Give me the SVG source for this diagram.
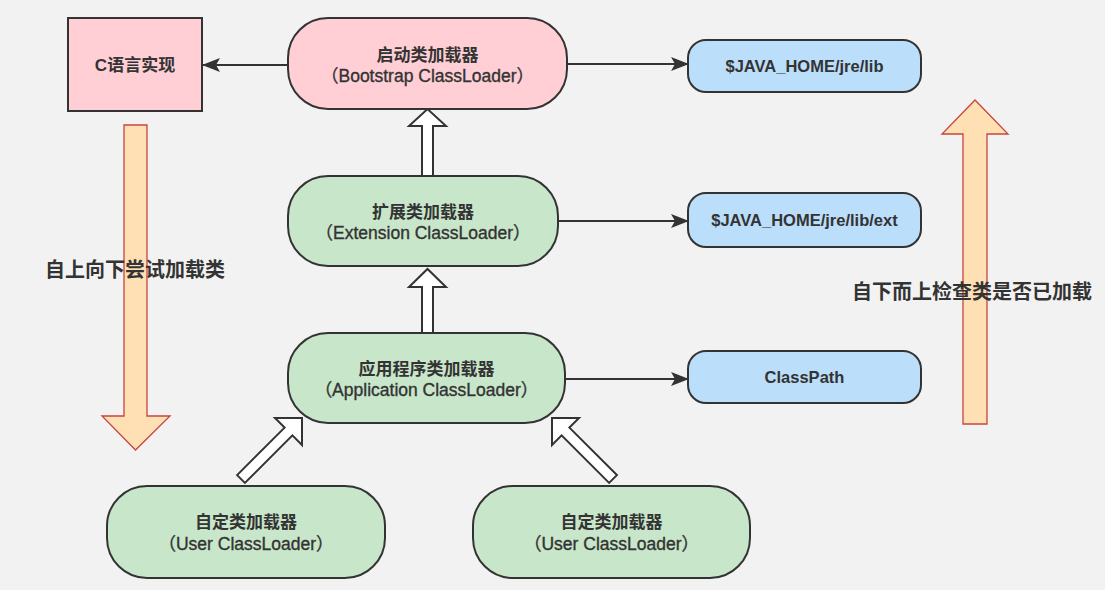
<svg xmlns="http://www.w3.org/2000/svg" width="1105" height="590" viewBox="0 0 1105 590">
<defs>
<style>
.bg{fill:#f2f2f2}
.pink{fill:#ffcfd5;stroke:#333;stroke-width:2}
.green{fill:#c8e6c9;stroke:#333;stroke-width:2}
.blue{fill:#bbdefb;stroke:#333;stroke-width:2}
.t{font-family:"Liberation Sans","Noto Sans CJK SC",sans-serif;fill:#333;text-anchor:middle}
.cn{font-size:17px;font-weight:bold}
.en{font-size:17.5px;stroke:#333;stroke-width:0.35}
.bt{font-size:16.5px;font-weight:bold}
.side{font-family:"Liberation Sans","Noto Sans CJK SC",sans-serif;fill:#333;font-size:20px;font-weight:bold}
.line{stroke:#333;stroke-width:2;fill:none;marker-end:url(#ah)}
.hollow{fill:#fff;stroke:#333;stroke-width:2;stroke-linejoin:miter}
.big{fill:#ffe0b5;stroke:#c8443c;stroke-width:1.3}
</style>
<marker id="ah" markerUnits="userSpaceOnUse" markerWidth="18" markerHeight="14" refX="17" refY="7" orient="auto">
<path d="M0,0 L18,7 L0,14 L4,7 z" fill="#333"/>
</marker>
</defs>
<rect class="bg" x="0" y="0" width="1105" height="590"/>

<g id="big-arrows">
<polygon class="big" points="124,125 147,125 147,416 170,416 135.5,450 102,416 124,416"/>
<polygon class="big" points="963,424 963,134 942,134 975,100 1008,134 987,134 987,424"/>
</g>
<g id="side-labels">
<text class="side" x="45" y="277">自上向下尝试加载类</text>
<text class="side" x="852" y="299">自下而上检查类是否已加载</text>
</g>

<g id="connectors">
<line class="line" x1="288" y1="65" x2="203" y2="65"/>
<line class="line" x1="567" y1="64" x2="688" y2="64"/>
<line class="line" x1="558" y1="221" x2="688" y2="221"/>
<line class="line" x1="565" y1="379" x2="688" y2="379"/>
<polygon class="hollow" points="422,176 422,126 409,126 427.5,109 446,126 433,126 433,176"/>
<polygon class="hollow" points="422,333 422,287 409,287 427.5,269 446,287 433,287 433,333"/>
<polygon class="hollow" points="237.1,475.1 284.6,427.6 275,418 302,418 302,445 292.4,435.4 244.9,482.9"/>
<polygon class="hollow" points="609.1,482.9 561.6,435.4 552,445 552,418 579,418 569.4,427.6 616.9,475.1"/>
</g>

<g id="c-impl">
<rect class="pink" x="68" y="18" width="134" height="93"/>
<text class="t cn" x="135" y="71">C语言实现</text>
</g>

<g id="bootstrap">
<rect class="pink" x="288" y="18" width="279" height="91" rx="40" ry="40"/>
<text class="t cn" x="427.5" y="61">启动类加载器</text>
<text class="t en" x="427.5" y="82">（Bootstrap ClassLoader）</text>
</g>

<g id="extension">
<rect class="green" x="288" y="176" width="270" height="90" rx="40" ry="40"/>
<text class="t cn" x="423" y="218">扩展类加载器</text>
<text class="t en" x="423" y="239">（Extension ClassLoader）</text>
</g>

<g id="application">
<rect class="green" x="288" y="333" width="277" height="90" rx="40" ry="40"/>
<text class="t cn" x="426.5" y="375">应用程序类加载器</text>
<text class="t en" x="426.5" y="396">（Application ClassLoader）</text>
</g>

<g id="user1">
<rect class="green" x="107" y="486" width="278" height="92" rx="40" ry="40"/>
<text class="t cn" x="246" y="528">自定类加载器</text>
<text class="t en" x="246" y="550">（User ClassLoader）</text>
</g>

<g id="user2">
<rect class="green" x="473" y="486" width="277" height="92" rx="40" ry="40"/>
<text class="t cn" x="611.5" y="528">自定类加载器</text>
<text class="t en" x="611.5" y="550">（User ClassLoader）</text>
</g>

<g id="lib">
<rect class="blue" x="688" y="40" width="233" height="52" rx="18" ry="18"/>
<text class="t bt" x="804.5" y="72">$JAVA_HOME/jre/lib</text>
</g>

<g id="lib-ext">
<rect class="blue" x="688" y="193" width="233" height="54" rx="18" ry="18"/>
<text class="t bt" x="804.5" y="226">$JAVA_HOME/jre/lib/ext</text>
</g>

<g id="classpath">
<rect class="blue" x="688" y="351" width="233" height="52" rx="18" ry="18"/>
<text class="t bt" x="804.5" y="383">ClassPath</text>
</g>
</svg>
